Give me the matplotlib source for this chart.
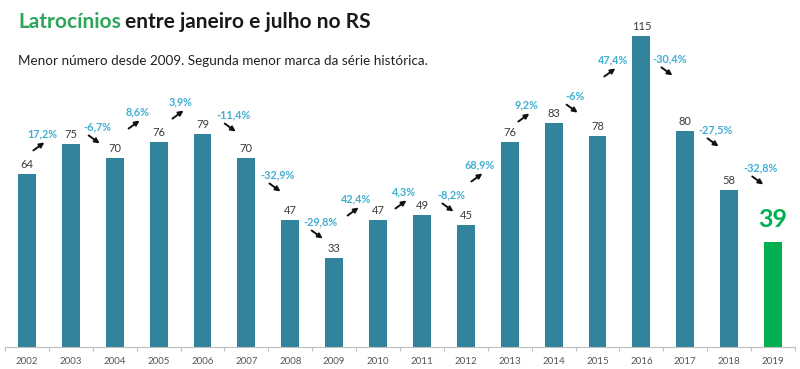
import matplotlib
matplotlib.use("Agg")
import matplotlib.pyplot as plt

years = ["2002", "2003", "2004", "2005", "2006", "2007", "2008", "2009", "2010",
         "2011", "2012", "2013", "2014", "2015", "2016", "2017", "2018", "2019"]
values = [64, 75, 70, 76, 79, 70, 47, 33, 47, 49, 45, 76, 83, 78, 115, 80, 58, 39]
changes = ["17,2%", "-6,7%", "8,6%", "3,9%", "-11,4%", "-32,9%", "-29,8%", "42,4%",
           "4,3%", "-8,2%", "68,9%", "9,2%", "-6%", "47,4%", "-30,4%", "-27,5%", "-32,8%"]

# layout: where each change label sits (x in category units, y in data units)
label_x = [0.34, 1.60, 2.51, 3.51, 4.70, 5.72, 6.68, 7.50, 8.59, 9.66, 10.32,
           11.39, 12.49, 13.35, 14.65, 15.70, 16.72]
label_y = [78.9, 81.5, 87.0, 90.7, 85.9, 63.7, 46.3, 54.8, 57.4, 56.3, 67.4,
           89.6, 92.9, 106.3, 106.7, 80.4, 66.3]

plt.rcParams['font.family'] = ['Lato', 'DejaVu Sans']

TEAL = "#31849B"
GREEN = "#00B050"
PCT = "#3FAED3"
DARK = "#3A3A3A"

W, H = 800, 369
fig = plt.figure(figsize=(W / 100, H / 100), dpi=100)
ax_left, ax_bottom, ax_w, ax_h = 5, 22, 790, 347
ax = fig.add_axes([ax_left / W, ax_bottom / H, ax_w / W, ax_h / H])
x = list(range(len(years)))
colors = [TEAL] * (len(years) - 1) + [GREEN]
ax.bar(x, values, width=0.41, color=colors, zorder=2)
ax.set_xlim(-0.5, len(years) - 0.5)
ax.set_ylim(0, 128.5)

px_x = ax_w / len(years)      # pixels per category unit
px_y = ax_h / 128.5           # pixels per data unit

for i, v in enumerate(values[:-1]):
    ax.annotate(str(v), (i, v), xytext=(0, 3), textcoords="offset points",
                ha="center", va="bottom", fontsize=8, color=DARK)
ax.annotate(str(values[-1]), (x[-1], values[-1]), xytext=(0, 16), textcoords="offset points",
            ha="center", va="center", fontsize=18, fontweight="bold", color=GREEN)

for k, lab in enumerate(changes):
    i = k + 1
    xl, yl = label_x[k], label_y[k]
    ax.text(xl, yl, lab, ha="center", va="center", fontsize=7.8, fontweight="bold", color=PCT)
    up = values[i] > values[i - 1]
    xc = xl - 3 / px_x
    yc = yl - 12.5 / px_y
    hx = 5.5 / px_x
    hy = 4 / px_y
    if up:
        start, end = (xc - hx, yc - hy), (xc + hx, yc + hy)
    else:
        start, end = (xc - hx, yc + hy), (xc + hx, yc - hy)
    ax.annotate("", xy=end, xytext=start,
                arrowprops=dict(arrowstyle="-|>", color="#111111", lw=1.4,
                                mutation_scale=7, shrinkA=0, shrinkB=0))

for s in ["top", "right", "left"]:
    ax.spines[s].set_visible(False)
ax.spines["bottom"].set_color("#BFBFBF")
ax.spines["bottom"].set_linewidth(0.8)
ax.set_yticks([])
ax.set_xticks(x)
ax.set_xticklabels(years, fontsize=7, color="#555555")
ax.tick_params(axis="x", length=0, pad=7)
ax.set_xticks([i + 0.5 for i in range(-1, len(years))], minor=True)
ax.tick_params(axis="x", which="minor", length=3, color="#BFBFBF", width=0.8)

t1 = fig.text(18 / W, 1 - 22 / H, "Latrocínios", fontsize=15, fontweight="bold",
              color="#2DA65C", va="center", ha="left")
fig.canvas.draw()
bb = t1.get_window_extent()
fig.text(bb.x1 / W + 4 / W, 1 - 22 / H, "entre janeiro e julho no RS", fontsize=15,
         fontweight="bold", color="#1A1A1A", va="center", ha="left")
fig.text(18 / W, 1 - 61 / H, "Menor número desde 2009. Segunda menor marca da série histórica.",
         fontsize=9.7, color="#222222", va="center", ha="left")

fig.savefig("out.png", dpi=100)
